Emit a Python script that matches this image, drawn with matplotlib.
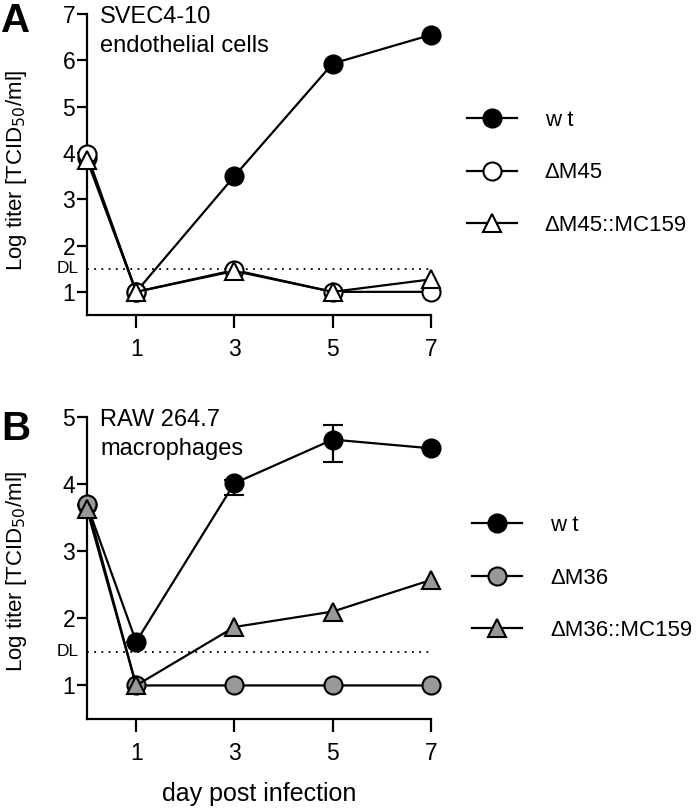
import matplotlib
matplotlib.use("Agg")
import matplotlib.pyplot as plt
from matplotlib.lines import Line2D

plt.rcParams["font.family"] = ["Liberation Sans", "DejaVu Sans"]

days = [0, 1, 3, 5, 7]
x_ticks = [1, 3, 5, 7]
detection_limit = 1.5

# panel A: SVEC4-10 endothelial cells
a_labels = ["w t", "\u0394M45", "\u0394M45::MC159"]
a_wt = [3.9, 1.0, 3.5, 5.93, 6.55]
a_dm45 = [3.97, 1.0, 1.47, 1.0, 1.0]
a_dm45_mc159 = [3.85, 1.0, 1.45, 1.0, 1.27]

# panel B: RAW 264.7 macrophages
b_labels = ["w t", "\u0394M36", "\u0394M36::MC159"]
b_wt = [3.69, 1.65, 4.01, 4.66, 4.53]
b_wt_err_low = [0.0, 0.0, 0.17, 0.33, 0.0]
b_wt_err_high = [0.0, 0.0, 0.05, 0.22, 0.0]
b_dm36 = [3.7, 1.0, 1.0, 1.0, 1.0]
b_dm36_mc159 = [3.62, 1.0, 1.87, 2.1, 2.57]

GREY = "#999999"
TICK_FS = 16.5
NOTE_FS = 17
LEG_FS = 16
YLAB_FS = 16
XLAB_FS = 18


def style_axis(ax, ymax, text, label_y):
    ax.set_xlim(0, 7)
    ax.set_ylim(0.5, ymax)
    ax.spines["top"].set_visible(False)
    ax.spines["right"].set_visible(False)
    for s in ("left", "bottom"):
        ax.spines[s].set_linewidth(1.6)
    ax.set_xticks(x_ticks)
    ax.set_yticks(range(1, int(ymax) + 1))
    ax.tick_params(axis="both", direction="out", width=1.6,
                   labelsize=TICK_FS)
    ax.tick_params(axis="x", length=9.5, pad=7)
    ax.tick_params(axis="y", length=7, pad=1.5)
    ax.set_ylabel("Log titer [TCID$_{50}$/ml]", fontsize=YLAB_FS)
    ax.yaxis.set_label_coords(-0.17, label_y)
    ax.plot([0, 7], [detection_limit, detection_limit], ls=(0, (1, 3)),
            color="black", lw=1.3, clip_on=False, zorder=1)
    ax.text(-0.024, detection_limit, "DL", transform=ax.get_yaxis_transform(),
            ha="right", va="center", fontsize=12.5)
    # va="baseline" on a two-line text anchors the last line
    ax.text(0.038, 0.874, text, transform=ax.transAxes, ha="left",
            va="baseline", fontsize=NOTE_FS, linespacing=1.4)


def add_legend(fig, handles, labels, x, y):
    fig.legend(handles, labels, loc="upper left", bbox_to_anchor=(x, y),
               frameon=False, fontsize=LEG_FS, handlelength=2.25,
               handletextpad=1.26, labelspacing=1.42, borderaxespad=0)


fig = plt.figure(figsize=(7, 8.1), dpi=100)

# ---- panel A
ax_a = fig.add_axes([0.1243, 0.6111, 0.4914, 0.3716])
style_axis(ax_a, 7, "SVEC4-10\nendothelial cells", 0.48)
kw = dict(color="black", lw=1.6, ms=13, mec="black", mew=1.5, clip_on=False)
h1, = ax_a.plot(days, a_wt, marker="o", mfc="black", zorder=3, **kw)
h3, = ax_a.plot(days, a_dm45_mc159, marker="^", mfc="white", zorder=4, **kw)
h2, = ax_a.plot(days, a_dm45, marker="o", mfc="white", zorder=3.5, **kw)
add_legend(fig, [h1, h2, h3], a_labels, 0.654, 0.8755)
fig.text(0.002, 0.9605, "A", fontsize=29, fontweight="bold", va="baseline")

# ---- panel B
ax_b = fig.add_axes([0.1243, 0.1123, 0.4914, 0.3732])
style_axis(ax_b, 5, "RAW 264.7\nmacrophages", 0.49)
g1 = ax_b.errorbar(days, b_wt, yerr=[b_wt_err_low, b_wt_err_high],
                   marker="o", mfc="black", capsize=7, capthick=1.6,
                   elinewidth=1.6, zorder=3, **kw)
for art in g1.lines[1] + g1.lines[0:1]:
    art.set_clip_on(False)
h2b, = ax_b.plot(days, b_dm36, marker="o", mfc=GREY, zorder=4, **kw)
h3b, = ax_b.plot(days, b_dm36_mc159, marker="^", mfc=GREY, zorder=5, **kw)
h1b = Line2D([], [], marker="o", mfc="black", **kw)
add_legend(fig, [h1b, h2b, h3b], b_labels, 0.6616, 0.375)
ax_b.set_xlabel("day post infection", fontsize=XLAB_FS, labelpad=12)
fig.text(0.002, 0.4568, "B", fontsize=29, fontweight="bold", va="baseline")

fig.savefig("out.png", dpi=100)
